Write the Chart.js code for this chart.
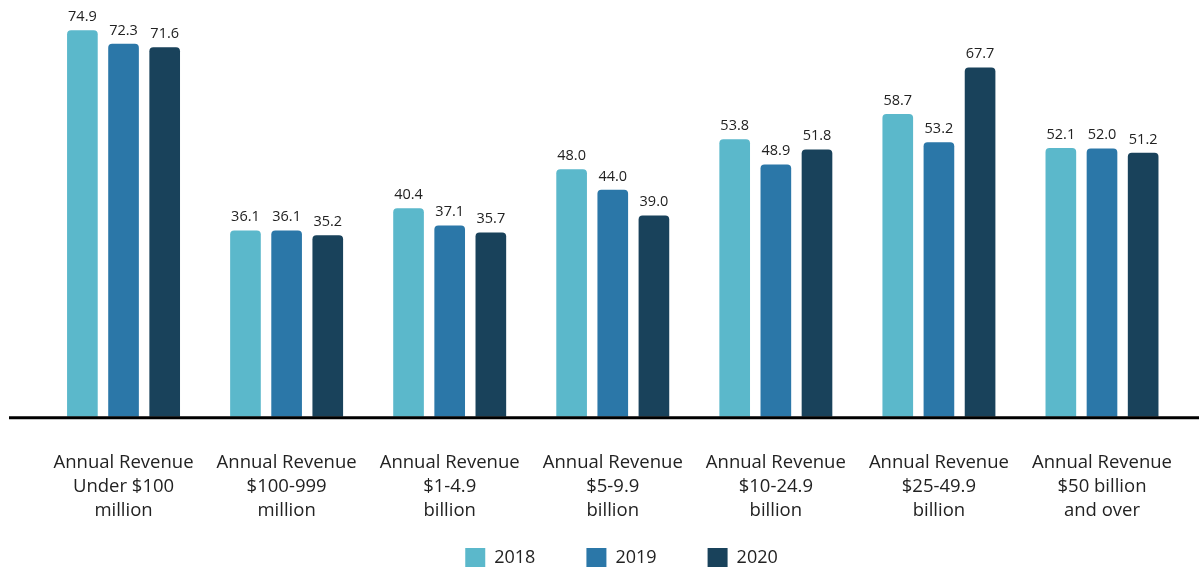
<!DOCTYPE html>
<html>
<head>
<meta charset="utf-8">
<script src="https://cdn.jsdelivr.net/npm/chart.js@4/dist/chart.umd.min.js"></script>
<style>
  html, body { margin: 0; padding: 0; background: #fff; overflow: hidden; }
  #wrap { position: relative; width: 1199px; height: 630px; }
</style>
</head>
<body>
<div id="wrap"><canvas id="revenueChart"></canvas></div>
<script>
// revenue band labels, one line per array entry
const categories = [
  ["Annual Revenue", "Under $100", "million"],
  ["Annual Revenue", "$100-999", "million"],
  ["Annual Revenue", "$1-4.9", "billion"],
  ["Annual Revenue", "$5-9.9", "billion"],
  ["Annual Revenue", "$10-24.9", "billion"],
  ["Annual Revenue", "$25-49.9", "billion"],
  ["Annual Revenue", "$50 billion", "and over"]
];
const years = ["2018", "2019", "2020"];
const values2018 = [74.9, 36.1, 40.4, 48.0, 53.8, 58.7, 52.1];
const values2019 = [72.3, 36.1, 37.1, 44.0, 48.9, 53.2, 52.0];
const values2020 = [71.6, 35.2, 35.7, 39.0, 51.8, 67.7, 51.2];
const colors = ["#5BB8CB", "#2B77A8", "#19425B"];

const FONT = "'Open Sans', Lato, sans-serif";

// value above each bar
const barValues = {
  id: "barValues",
  afterDatasetsDraw(chart) {
    const ctx = chart.ctx;
    ctx.save();
    ctx.font = "14.5px " + FONT;
    ctx.fillStyle = "#222";
    ctx.textAlign = "center";
    ctx.textBaseline = "bottom";
    chart.data.datasets.forEach((ds, i) => {
      chart.getDatasetMeta(i).data.forEach((bar, j) => {
        ctx.fillText(ds.data[j].toFixed(1), bar.x, bar.y - 6);
      });
    });
    ctx.restore();
  }
};

// heavy baseline across the full width
const baseline = {
  id: "baseline",
  afterDatasetsDraw(chart) {
    const ctx = chart.ctx;
    const y = chart.scales.y.getPixelForValue(0) + 1;
    ctx.save();
    ctx.strokeStyle = "#000";
    ctx.lineWidth = 3;
    ctx.beginPath();
    ctx.moveTo(9, y);
    ctx.lineTo(chart.width, y);
    ctx.stroke();
    ctx.restore();
  }
};

// pull the legend up under the category labels
const legendNudge = {
  id: "legendNudge",
  afterLayout(chart) {
    const lg = chart.legend;
    lg.top -= 52;
    lg.bottom -= 52;
    lg.left += 8;
    lg.right += 8;
  }
};

const ctx = document.getElementById("revenueChart").getContext("2d");
new Chart(ctx, {
  type: "bar",
  data: {
    labels: categories,
    datasets: [values2018, values2019, values2020].map((vals, i) => ({
      label: years[i],
      data: vals,
      backgroundColor: colors[i],
      borderRadius: { topLeft: 4, topRight: 4 },
      borderSkipped: "bottom",
      categoryPercentage: 0.757,
      barPercentage: 0.745
    }))
  },
  options: {
    responsive: true,
    maintainAspectRatio: false,
    animation: false,
    layout: { padding: { top: 4, left: 42, right: 14, bottom: 0 } },
    plugins: {
      legend: {
        position: "bottom",
        labels: {
          color: "#222",
          boxWidth: 20,
          boxHeight: 20,
          padding: 51,
          font: { family: FONT, size: 18 }
        }
      },
      tooltip: { enabled: false }
    },
    scales: {
      x: {
        grid: { display: false },
        border: { display: false },
        ticks: {
          color: "#222",
          padding: 26,
          font: { family: FONT, size: 18.5, lineHeight: 1.3 },
          maxRotation: 0,
          autoSkip: false
        }
      },
      y: {
        display: false,
        min: 0,
        max: 80
      }
    }
  },
  plugins: [barValues, baseline, legendNudge]
});
</script>
</body>
</html>
